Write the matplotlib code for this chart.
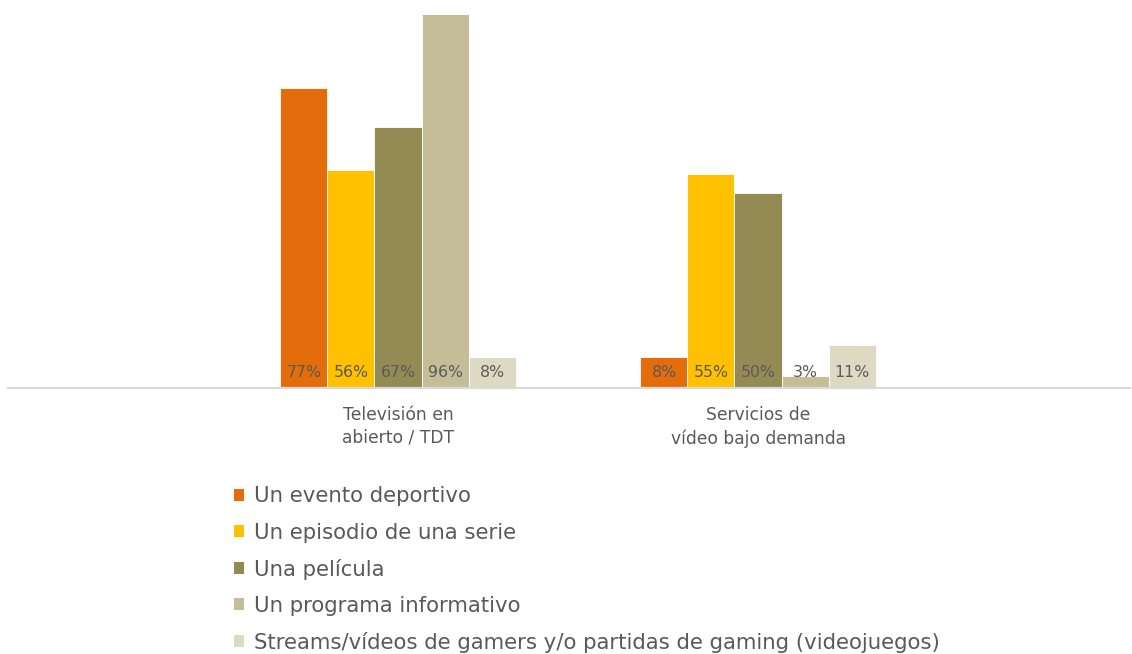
import numpy as np
import matplotlib
matplotlib.use('Agg')
import matplotlib.pyplot as plt
from matplotlib.patches import Patch

plt.rcParams['font.family'] = ['DejaVu Sans']

categories = ['Televisión en\nabierto / TDT', 'Servicios de\nvídeo bajo demanda']
series = ['Un evento deportivo',
          'Un episodio de una serie',
          'Una película',
          'Un programa informativo',
          'Streams/vídeos de gamers y/o partidas de gaming (videojuegos)']
deportivo = [77, 8]
serie = [56, 55]
pelicula = [67, 50]
informativo = [96, 3]
gaming = [8, 11]

values = [deportivo, serie, pelicula, informativo, gaming]
colors = ['#E46C0A', '#FFC000', '#948A54', '#C4BD97', '#DDD9C3']

fig = plt.figure(figsize=(11.32, 6.54), dpi=100)
ax = fig.add_axes([8 / 1132, 1 - 388 / 654, 1122 / 1132, 388 / 654])

x = np.arange(len(categories))
w = 0.1306
for i, (vals, col) in enumerate(zip(values, colors)):
    pos = x + (i - 2) * w
    ax.bar(pos, vals, width=w, color=col, edgecolor='white', linewidth=0.6)
    for p, v in zip(pos, vals):
        ax.text(p, 3.9, f'{v}%', ha='center', va='center',
                fontsize=11.3, color='#5a5a5a')

ax.set_xlim(-390 / 360, 1 + 372 / 360)
ax.set_ylim(0, 99.6)
ax.set_xticks(x)
ax.set_xticklabels(categories, fontsize=12.3, color='#595959', linespacing=1.35)
ax.tick_params(axis='x', length=0, pad=13)
ax.set_yticks([])
for s in ['top', 'left', 'right']:
    ax.spines[s].set_visible(False)
ax.spines['bottom'].set_color('#D9D9D9')
ax.spines['bottom'].set_linewidth(1.6)

handles = [Patch(facecolor=c, edgecolor='none') for c in colors]
fig.legend(handles, series, loc='upper left', bbox_to_anchor=(225 / 1132, 1 - 478 / 654),
           frameon=False, fontsize=15.3, labelcolor='#595959',
           handlelength=0.5, handleheight=0.5, handletextpad=0.45,
           labelspacing=0.755, borderaxespad=0)

fig.savefig('out.png', dpi=100, facecolor='white')
